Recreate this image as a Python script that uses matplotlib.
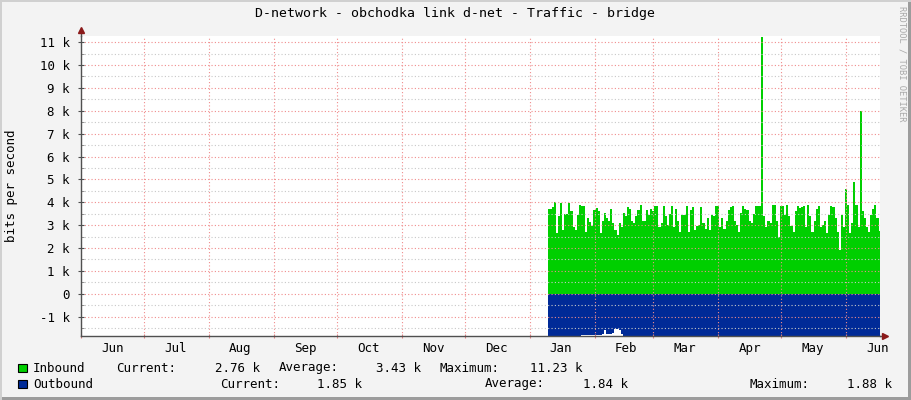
import matplotlib
matplotlib.use("Agg")
import matplotlib.pyplot as plt
import matplotlib.dates as mdates
import matplotlib.patches as mpatches
import numpy as np
import pandas as pd

# ---------------- data ----------------
title = "D-network - obchodka link d-net - Traffic - bridge"
ylabel = "bits per second"
start_date = "2013-01-10"          # first sample (daily samples)
x_start, x_end = "2012-06-01", "2013-06-17 05:00"

# inbound traffic, kbit/s, one value per day
inbound = [
    3.7, 3.7, 3.8, 4.0, 2.65, 3.4, 3.95, 2.8, 3.5, 3.5,
    3.95, 3.6, 2.9, 2.8, 3.45, 3.9, 3.85, 3.85, 2.7, 3.3,
    3.15, 2.95, 3.65, 3.75, 3.6, 2.65, 3.2, 3.55, 3.3, 3.2,
    3.7, 3.1, 2.8, 2.55, 3.1, 2.9, 3.55, 3.4, 3.8, 3.7,
    3.2, 3.1, 3.4, 3.65, 3.9, 3.2, 3.2, 3.65, 3.45, 3.7,
    3.6, 3.85, 3.85, 2.9, 3.1, 3.85, 3.4, 3.0, 3.5, 3.85,
    2.9, 3.7, 3.2, 2.7, 3.45, 3.45, 3.85, 2.7, 3.65, 3.8,
    2.8, 2.95, 3.0, 3.8, 3.1, 2.85, 3.3, 2.8, 3.45, 3.4,
    3.85, 3.85, 2.9, 3.3, 2.85, 3.2, 3.65, 3.8, 3.85, 3.2,
    3.0, 2.7, 3.55, 3.85, 3.7, 3.65, 3.2, 3.1, 3.5, 3.85,
    3.85, 3.85, 11.23, 3.4, 2.9, 3.2, 3.1, 3.9, 3.9, 3.2,
    2.5, 3.85, 3.85, 3.45, 3.9, 3.4, 2.95, 2.7, 3.6, 3.85,
    3.75, 3.8, 3.85, 2.9, 3.9, 3.4, 2.7, 3.2, 3.7, 3.85,
    2.9, 3.0, 3.2, 2.65, 3.45, 3.85, 3.8, 3.3, 2.7, 1.9,
    3.45, 2.9, 4.6, 3.9, 2.65, 3.1, 4.9, 3.9, 2.9, 8.0,
    3.6, 3.3, 2.9, 2.7, 3.45, 3.7, 3.9, 3.3, 2.76,
]

# outbound traffic, kbit/s (drawn below zero), one value per day
outbound = [
    1.87, 1.87, 1.84, 1.87, 1.87, 1.87, 1.87, 1.87, 1.87, 1.87,
    1.87, 1.87, 1.87, 1.87, 1.87, 1.87, 1.80, 1.80, 1.80, 1.80,
    1.80, 1.80, 1.80, 1.80, 1.80, 1.79, 1.78, 1.57, 1.76, 1.78,
    1.78, 1.70, 1.55, 1.53, 1.60, 1.78, 1.87, 1.87, 1.87, 1.87,
    1.87, 1.87, 1.87, 1.87, 1.87, 1.87, 1.87, 1.87, 1.87, 1.87,
    1.87, 1.87, 1.87, 1.87, 1.87, 1.87, 1.87, 1.87, 1.87, 1.87,
    1.87, 1.87, 1.87, 1.87, 1.87, 1.87, 1.87, 1.87, 1.87, 1.87,
    1.87, 1.87, 1.87, 1.87, 1.87, 1.87, 1.87, 1.87, 1.87, 1.87,
    1.87, 1.87, 1.87, 1.87, 1.87, 1.87, 1.87, 1.87, 1.87, 1.87,
    1.87, 1.87, 1.87, 1.87, 1.87, 1.87, 1.87, 1.87, 1.87, 1.87,
    1.87, 1.87, 1.87, 1.87, 1.87, 1.87, 1.87, 1.87, 1.87, 1.87,
    1.87, 1.87, 1.87, 1.87, 1.87, 1.87, 1.87, 1.87, 1.87, 1.87,
    1.87, 1.87, 1.87, 1.87, 1.87, 1.87, 1.83, 1.87, 1.87, 1.87,
    1.87, 1.87, 1.87, 1.87, 1.87, 1.87, 1.87, 1.87, 1.87, 1.87,
    1.87, 1.87, 1.87, 1.87, 1.87, 1.87, 1.87, 1.87, 1.87, 1.87,
    1.87, 1.87, 1.87, 1.87, 1.87, 1.87, 1.87, 1.87, 1.85,
]

y_ticks = [-1, 0, 1, 2, 3, 4, 5, 6, 7, 8, 9, 10, 11]
y_tick_labels = ["-1 k", "0", "1 k", "2 k", "3 k", "4 k", "5 k", "6 k",
                 "7 k", "8 k", "9 k", "10 k", "11 k"]

legend_rows = [
    ("Inbound", "#00CF00",
     [("Current:", 116, "2.76 k", 260), ("Average:", 279, "3.43 k", 421),
      ("Maximum:", 440, "11.23 k", 583)]),
    ("Outbound", "#002A97",
     [("Current:", 220, "1.85 k", 362), ("Average:", 485, "1.84 k", 628),
      ("Maximum:", 750, "1.88 k", 892)]),
]

# ---------------- figure ----------------
W, H = 911, 400
FONT = "DejaVu Sans Mono"
FS = 9
plt.rcParams["font.family"] = FONT

fig = plt.figure(figsize=(W / 100, H / 100), dpi=100)
fig.patch.set_facecolor("#F3F3F3")


def fx(x):
    return x / W


def fy(y):
    return 1 - y / H


ax = fig.add_axes([fx(81), fy(336), fx(880) - fx(81), fy(36) - fy(336)])
ax.set_facecolor("white")

dates = pd.date_range(start_date, periods=len(inbound), freq="D")
inb = np.array(inbound)
outb = -np.array(outbound)

ax.fill_between(dates, 0, inb, step="mid", color="#00CF00", lw=0, zorder=1)
ax.fill_between(dates, 0, outb, step="mid", color="#002A97", lw=0, zorder=1)

ax.set_xlim(pd.Timestamp(x_start), pd.Timestamp(x_end))
ax.set_ylim(-1.85, 11.27)

# y axis
ax.set_yticks(y_ticks)
ax.set_yticklabels(y_tick_labels)
ax.set_yticks(np.arange(-1.5, 11.5, 1.0), minor=True)
ax.tick_params(axis="y", which="major", length=4, direction="inout",
               color="#505050", labelsize=FS, pad=6, labelcolor="#000000")
ax.tick_params(axis="y", which="minor", length=2, direction="in",
               color="#808080")

# x axis: gridlines at month starts, labels mid-month
ax.xaxis.set_major_locator(mdates.MonthLocator(bymonthday=1))
ax.xaxis.set_major_formatter(plt.NullFormatter())
ax.xaxis.set_minor_locator(mdates.MonthLocator(bymonthday=16))
ax.xaxis.set_minor_formatter(mdates.DateFormatter("%b"))
ax.tick_params(axis="x", which="major", length=3, direction="inout",
               color="#E08080")
ax.tick_params(axis="x", which="minor", length=0, labelsize=FS, pad=4)

ax.set_axisbelow(False)
dot = (0, (1, 2))
ax.grid(True, axis="y", which="major", color="#F08C8C", lw=0.8, ls=dot)
ax.grid(True, axis="y", which="minor", color="#C8C8C8", lw=0.8, ls=dot)
ax.grid(True, axis="x", which="major", color="#F08C8C", lw=0.8, ls=dot)

for s in ("top", "right"):
    ax.spines[s].set_visible(False)
for s in ("left", "bottom"):
    ax.spines[s].set_color("#505050")
    ax.spines[s].set_linewidth(1.0)
    ax.spines[s].set_zorder(3)

# arrows
ax.plot([0, 0], [1.0, 1.02], transform=ax.transAxes, color="#505050",
        lw=1.0, clip_on=False, zorder=3)
ax.plot([0], [1.02], marker="^", ms=5, color="#8B1A1A",
        transform=ax.transAxes, clip_on=False, zorder=4)
ax.plot([1.0, 1.006], [0, 0], transform=ax.transAxes, color="#505050",
        lw=1.0, clip_on=False, zorder=3)
ax.plot([1.006], [0], marker=">", ms=5, color="#8B1A1A",
        transform=ax.transAxes, clip_on=False, zorder=4)

ax.set_ylabel(ylabel, fontsize=FS, labelpad=6)
ax.yaxis.set_label_coords(fx(12) - fx(81), 0.5, transform=None) if False else None
fig.text(fx(12), fy(186), ylabel, rotation=90, ha="center", va="center",
         fontsize=FS)
ax.set_ylabel("")

fig.text(fx(455), fy(14), title, ha="center", va="center", fontsize=FS + 0.5)

fig.text(fx(902), fy(6), "RRDTOOL / TOBI OETIKER", rotation=270,
         ha="center", va="top", fontsize=6.3, color="#A8A8A8")

# legend
row_y = [368, 384]
for (name, col, items), yy in zip(legend_rows, row_y):
    fig.patches.append(mpatches.Rectangle((fx(18), fy(yy + 4)), fx(9), 8 / H,
                                          transform=fig.transFigure,
                                          facecolor=col, edgecolor="black",
                                          lw=0.8))
    fig.text(fx(33), fy(yy), name, ha="left", va="center", fontsize=FS)
    for lab, lx, val, vx in items:
        fig.text(fx(lx), fy(yy), lab, ha="left", va="center", fontsize=FS)
        fig.text(fx(vx), fy(yy), val, ha="right", va="center", fontsize=FS)

# frame shadow (right and bottom)
fig.patches.append(mpatches.Rectangle((fx(908), 0), fx(3), 1,
                                      transform=fig.transFigure,
                                      facecolor="#9C9C9C", lw=0))
fig.patches.append(mpatches.Rectangle((0, 0), 1, 3 / H,
                                      transform=fig.transFigure,
                                      facecolor="#9C9C9C", lw=0))
fig.patches.append(mpatches.Rectangle((0, 0), fx(2), 1,
                                      transform=fig.transFigure,
                                      facecolor="#D0D0D0", lw=0))
fig.patches.append(mpatches.Rectangle((0, 1 - 2 / H), 1, 2 / H,
                                      transform=fig.transFigure,
                                      facecolor="#D0D0D0", lw=0))

fig.savefig("out.png", dpi=100, facecolor=fig.get_facecolor())
